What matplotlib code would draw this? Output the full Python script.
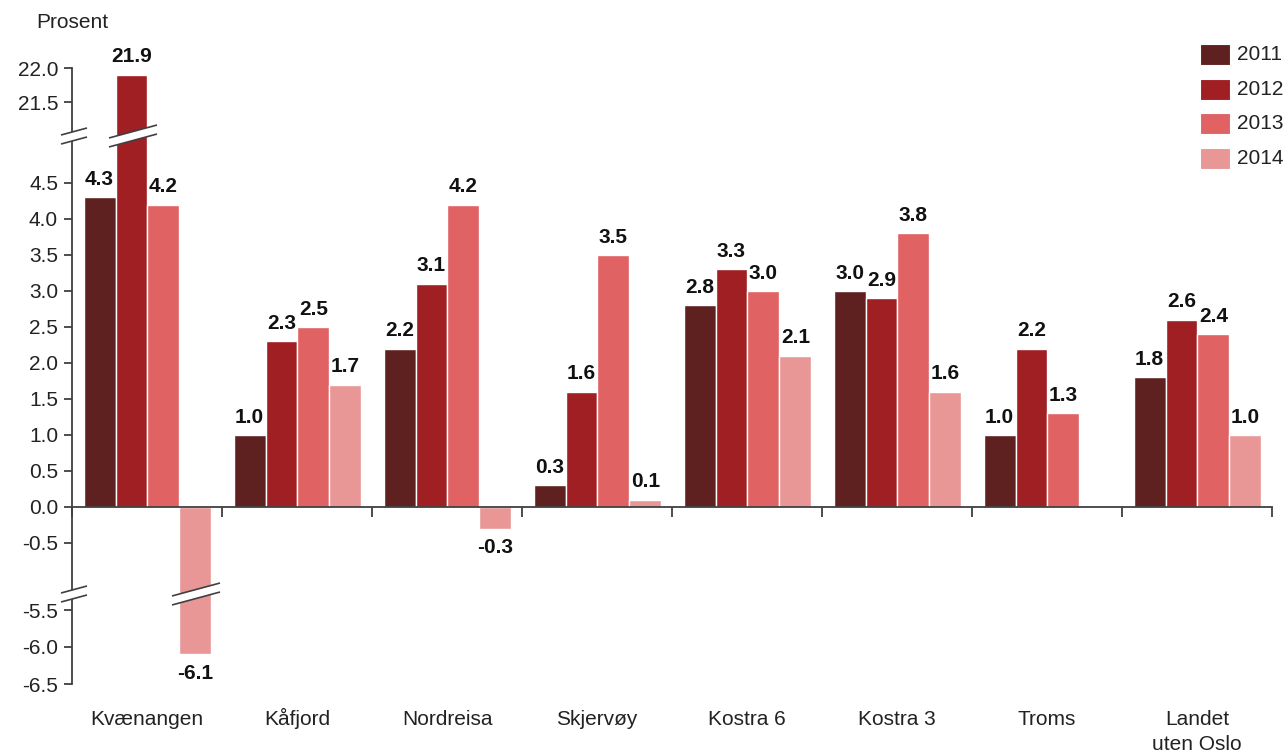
import numpy as np
import matplotlib
matplotlib.use('Agg')
import matplotlib.pyplot as plt
from matplotlib.patches import Rectangle, Polygon

plt.rcParams['font.family'] = ['Liberation Sans', 'DejaVu Sans']

# data
categories = ['Kvænangen', 'Kåfjord', 'Nordreisa', 'Skjervøy', 'Kostra 6', 'Kostra 3', 'Troms', 'Landet\nuten Oslo']
years = ['2011', '2012', '2013', '2014']
v2011 = [4.3, 1.0, 2.2, 0.3, 2.8, 3.0, 1.0, 1.8]
v2012 = [21.9, 2.3, 3.1, 1.6, 3.3, 2.9, 2.2, 2.6]
v2013 = [4.2, 2.5, 4.2, 3.5, 3.0, 3.8, 1.3, 2.4]
v2014 = [-6.1, 1.7, -0.3, 0.1, 2.1, 1.6, np.nan, 1.0]
series = [v2011, v2012, v2013, v2014]
colors = ['#5e2120', '#a01f22', '#e06262', '#e99696']
yticks = [-6.5, -6.0, -5.5, -0.5, 0.0, 0.5, 1.0, 1.5, 2.0, 2.5, 3.0, 3.5, 4.0, 4.5, 21.5, 22.0]

# piecewise linear axis (broken axis), p = pixels above zero line
vals = [-6.5, -5.3, -1.0, 4.9, 21.2, 22.0]
pix = [-177.0, -88.2, -72.0, 352.8, 384.6, 439.0]
def fwd(v):
    return np.interp(v, vals, pix)
def inv(p):
    return np.interp(p, pix, vals)

W, H = 1288, 754
fig = plt.figure(figsize=(W/100, H/100), dpi=100)
ax = fig.add_axes([72/W, (H-684)/H, 1200/W, 616/H])
ax.set_yscale('function', functions=(fwd, inv))
ax.set_ylim(-6.5, 22.0)
ax.set_xlim(-0.5, 7.5)

axcol = '#404040'
for s in ['top', 'right']:
    ax.spines[s].set_visible(False)
ax.spines['bottom'].set_position(('data', 0))
for s in ['left', 'bottom']:
    ax.spines[s].set_color(axcol)
    ax.spines[s].set_linewidth(1.3)

ax.set_yticks(yticks)
ax.set_yticklabels([('%.1f' % t) for t in yticks])
ax.tick_params(axis='y', direction='out', length=6, width=1.3, color=axcol,
               labelsize=15, labelcolor='#222222', pad=4)
ax.set_xticks(np.arange(-0.5, 8, 1))
ax.set_xticklabels([])
ax.tick_params(axis='x', direction='out', length=7, width=1.3, color=axcol)

x = np.arange(len(categories))
bw = 0.213
for k in range(4):
    pos = x + (k - 1.5) * bw + 0.003
    ax.bar(pos, series[k], width=bw, color=colors[k], edgecolor='white', linewidth=1.0, zorder=2)
    for xi, v in zip(pos, series[k]):
        if np.isnan(v):
            continue
        if v >= 0:
            ax.annotate('%.1f' % v, (xi, v), xytext=(0, 6), textcoords='offset points',
                        ha='center', va='bottom', fontsize=15, fontweight='bold', color='#111111')
        else:
            ax.annotate('%.1f' % v, (xi, v), xytext=(0, -7), textcoords='offset points',
                        ha='center', va='top', fontsize=15, fontweight='bold', color='#111111')

# category labels, one line at a time on a fixed baseline
for xi, c in zip(x, categories):
    for n, line in enumerate(c.split('\n')):
        base = 725 + n * 25
        ax.text(xi, (684 - base) / 616.0, line, transform=ax.get_xaxis_transform(),
                ha='center', va='baseline', fontsize=15, color='#222222')

# break marks (pixel helpers)
def xd(px):
    return -0.5 + (px - 72) / 150.0
def yd(py):
    return inv(507 - py)

def draw_break(cx, hw, cy, slope=0.27, th=9):
    pts = [(cx - hw, cy + slope*hw - th/2), (cx + hw, cy - slope*hw - th/2),
           (cx + hw, cy - slope*hw + th/2), (cx - hw, cy + slope*hw + th/2)]
    poly = Polygon([(xd(a), yd(b)) for a, b in pts], closed=True, facecolor='white',
                   edgecolor='none', zorder=5, clip_on=False)
    ax.add_patch(poly)
    for i, j in [(0, 1), (3, 2)]:
        ax.plot([xd(pts[i][0]), xd(pts[j][0])], [yd(pts[i][1]), yd(pts[j][1])],
                color=axcol, lw=1.2, zorder=6, clip_on=False, solid_capstyle='butt')

draw_break(74, 13, 136)
draw_break(133, 24, 136)
draw_break(74, 13, 594)
draw_break(196, 24, 594)

# legend
for k in range(4):
    top = 44 + k * 34.7
    fig.patches.append(Rectangle((1200/W, 1 - (top + 21)/H), 30/W, 21/H,
                                 facecolor=colors[k], edgecolor='white', lw=0.8,
                                 transform=fig.transFigure, figure=fig))
    fig.text(1237/W, 1 - (top + 10.5)/H, years[k], ha='left', va='center',
             fontsize=15, color='#222222')

fig.text(36/W, 1 - 22/H, 'Prosent', ha='left', va='center', fontsize=15, color='#222222')

fig.savefig('out.png', dpi=100)
